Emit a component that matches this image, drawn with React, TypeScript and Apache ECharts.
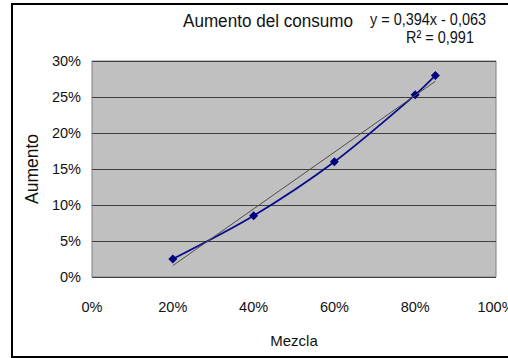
import React, { useEffect, useRef } from "react";
import * as echarts from "echarts";

// Mezcla (fraction) and Aumento (fraction) measurements
const mezcla = [0.2, 0.4, 0.6, 0.8, 0.85];
const aumento = [0.025, 0.085, 0.16, 0.253, 0.28];

// Linear trendline y = slope * x + intercept, R²
const slope = 0.394;
const intercept = -0.063;
const r2Text = "R² = 0,991";
const eqText = "y = 0,394x - 0,063";
const titleText = "Aumento del consumo";

const yTicks = { min: 0, max: 0.3, interval: 0.05 };
const xTicks = { min: 0, max: 1, interval: 0.2 };

const FONT = "'Liberation Sans', Arial, sans-serif";

export default function App() {
  const ref = useRef<HTMLDivElement>(null);

  useEffect(() => {
    if (!ref.current) return;
    const chart = echarts.init(ref.current, undefined, { renderer: "svg" });
    const xs = [mezcla[0], mezcla[mezcla.length - 1]];
    const trend = xs.map((x) => [x, slope * x + intercept]);
    const pct = (v: number) => `${Math.round(v * 100)}%`;

    chart.setOption({
      animation: false,
      backgroundColor: "#ffffff",
      textStyle: { fontFamily: FONT },
      grid: {
        left: 92,
        top: 61,
        width: 404,
        height: 216,
        outerBoundsMode: "none",
        containLabel: false,
        show: true,
        backgroundColor: "#c0c0c0",
        borderColor: "#808080",
        borderWidth: 1,
      },
      xAxis: {
        type: "value",
        ...xTicks,
        name: "Mezcla",
        nameLocation: "middle",
        nameGap: 56,
        nameTextStyle: { fontSize: 15, color: "#111", fontFamily: FONT },
        axisLine: { show: false },
        axisTick: { show: false },
        splitLine: { show: false },
        axisLabel: { formatter: pct, fontSize: 14.5, color: "#111", margin: 22, fontFamily: FONT },
      },
      yAxis: {
        type: "value",
        ...yTicks,
        name: "Aumento",
        nameLocation: "middle",
        nameGap: 50,
        nameRotate: 90,
        nameTextStyle: { fontSize: 17.5, color: "#111", fontFamily: FONT },
        axisLine: { show: false },
        axisTick: { show: false },
        splitLine: { show: true, lineStyle: { color: "#404040", width: 1.2 } },
        axisLabel: { formatter: pct, fontSize: 14.5, color: "#111", margin: 11, fontFamily: FONT },
      },
      series: [
        {
          type: "line",
          data: mezcla.map((x, i) => [x, aumento[i]]),
          smooth: 0.3,
          symbol: "diamond",
          symbolSize: 9,
          lineStyle: { color: "#0a0a8c", width: 1.8 },
          itemStyle: { color: "#000080" },
          z: 3,
        },
        {
          type: "line",
          data: trend,
          symbol: "none",
          lineStyle: { color: "#4d4d4d", width: 1 },
          z: 4,
        },
      ],
      graphic: [
        {
          type: "rect",
          shape: { x: 12, y: 4, width: 520, height: 353 },
          style: { fill: "none", stroke: "#000", lineWidth: 2 },
          silent: true,
        },
        {
          type: "text",
          x: 268,
          y: 21,
          scaleX: 0.9,
          style: {
            text: titleText,
            font: `19px ${FONT}`,
            fill: "#111",
            align: "center",
            verticalAlign: "middle",
          },
        },
        {
          type: "text",
          x: 428,
          y: 19,
          scaleX: 0.85,
          style: {
            text: eqText,
            font: `17px ${FONT}`,
            fill: "#111",
            align: "center",
            verticalAlign: "middle",
          },
        },
        {
          type: "text",
          x: 440,
          y: 37,
          scaleX: 0.85,
          style: {
            text: r2Text,
            font: `17px ${FONT}`,
            fill: "#111",
            align: "center",
            verticalAlign: "middle",
          },
        },
      ],
    });
    return () => chart.dispose();
  }, []);

  return (
    <div
      ref={ref}
      style={{ position: "fixed", left: 0, top: 0, width: 508, height: 358 }}
    />
  );
}
